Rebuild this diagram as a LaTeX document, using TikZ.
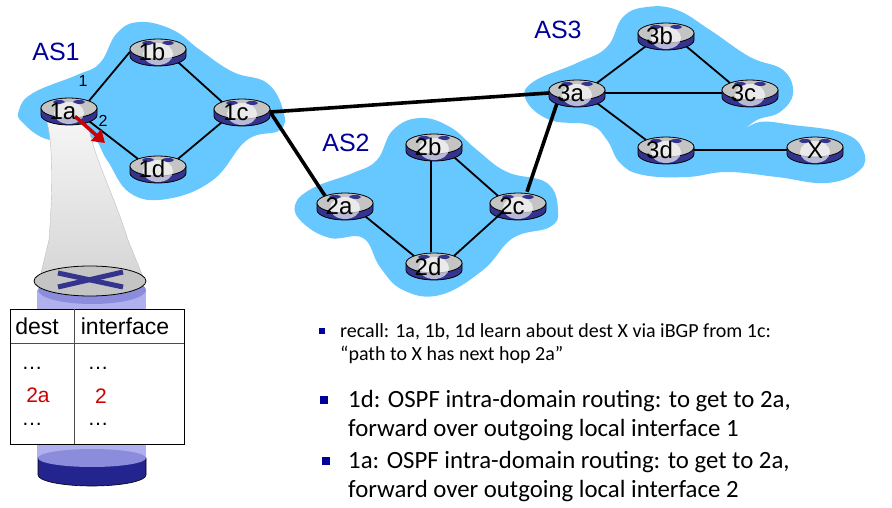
\documentclass[tikz,border=0pt]{standalone}
\usepackage{fontspec}
\setmainfont{Liberation Sans}
\newfontfamily\gillfont{Carlito}
\usetikzlibrary{shapes.geometric,arrows.meta,positioning,calc}
\pgfdeclarelayer{back}
\pgfdeclarelayer{links}
\pgfsetlayers{back,links,main}
\definecolor{cloudblue}{HTML}{66C8FF}
\definecolor{asnavy}{HTML}{000099}
\definecolor{routerblue}{HTML}{34348F}
\definecolor{routertop}{HTML}{C4C4C4}
\definecolor{bodylight}{HTML}{B0B0EE}
\definecolor{bodymid}{HTML}{8C8CDC}
\definecolor{bodydark}{HTML}{24248F}
\definecolor{tablered}{HTML}{CC0000}

% one router: name, x, y, label, label shift
\newcommand{\router}[5]{
  \begin{scope}[shift={(#2,#3)}]
    \draw[fill=routerblue, line width=0.8pt] (-28,3) -- (-28,-4) arc[start angle=180, end angle=360, x radius=28, y radius=10] -- (28,3) -- cycle;
    \draw[fill=routertop, line width=0.8pt] (0,3) ellipse [x radius=28, y radius=10];
    \fill[routerblue] (-10,9) ellipse [x radius=6, y radius=2];
    \fill[routerblue] (10,9) ellipse [x radius=6, y radius=2];
    \fill[white, opacity=0.65] (0,-2) ellipse [x radius=15, y radius=11];
  \end{scope}
  \node[routernode] (#1) at (#2,#3) {\raisebox{-9pt}[0pt][0pt]{\makebox[0pt]{\kern#5pt #4}}};
}

\begin{document}
\begin{tikzpicture}[
    x=1pt, y=1pt,
    routernode/.style={ellipse, minimum width=56pt, minimum height=28pt, inner sep=0pt, font=\fontsize{24}{26}\selectfont},
    linkline/.style={line width=1.8pt},
    bgpline/.style={line width=3.6pt},
    blob/.style={fill=cloudblue, draw=none},
    aslabel/.style={text=asnavy, font=\fontsize{25}{28}\selectfont},
    portlabel/.style={font=\fontsize{16}{18}\selectfont},
    cellhead/.style={font=\fontsize{23}{26}\selectfont},
    cellred/.style={text=tablered, inner sep=0pt, font=\fontsize{21}{24}\selectfont},
    celldots/.style={inner sep=0pt, font=\fontsize{21}{24}\selectfont},
    bullet/.style={rectangle, fill=asnavy, inner sep=0pt},
    smalltext/.style={anchor=north west, align=left, inner sep=0pt, font=\gillfont\fontsize{20}{23}\selectfont},
    bigtext/.style={anchor=north west, align=left, inner sep=0pt, font=\gillfont\fontsize{24.8}{29.5}\selectfont}
]
\useasboundingbox (0,0) rectangle (892,-508);

\begin{pgfonlayer}{back}
\fill[white] (0,0) rectangle (892,-508);
% AS clouds
\fill[blob] plot[smooth cycle, tension=0.7] coordinates {(19,-110) (33,-93) (77,-75) (100,-63) (117,-33) (140,-22) (173,-30) (200,-50) (233,-72) (267,-83) (283,-110) (280,-130) (247,-140) (213,-180) (167,-199) (130,-193) (107,-160) (90,-137) (50,-140) (23,-123)};
\fill[blob] plot[smooth cycle, tension=0.7] coordinates {(295,-205) (313,-188) (353,-173) (377,-160) (393,-130) (420,-118) (450,-127) (477,-150) (507,-172) (547,-183) (558,-210) (550,-227) (513,-238) (483,-270) (440,-295) (403,-290) (380,-267) (363,-238) (330,-238) (303,-223)};
\fill[blob] plot[smooth, tension=0.7] coordinates {(742,-132) (760,-122) (793,-125) (843,-133) (863,-150) (860,-170) (827,-183) (777,-177) (727,-172) (687,-177) (643,-175) (620,-163) (607,-140) (590,-125) (550,-120) (526,-100) (533,-82) (577,-63) (607,-47) (623,-17) (647,-7) (677,-10) (710,-30) (750,-57) (783,-70) (793,-93) (780,-112) (757,-120) (742,-132)} -- cycle;
% zoom beam
\draw[draw=gray!50, top color=gray!8, bottom color=gray!32] (47,-122) .. controls (54,-150) and (52,-200) .. (49,-240) -- (41,-273) -- (143,-277) -- (128,-240) .. controls (112,-190) and (95,-160) .. (88,-125) -- cycle;
\end{pgfonlayer}

\foreach \n/\x/\y/\s in {1a/69/-111/-12, 1b/158/-52/-12, 1c/242/-112/-12, 1d/158/-169/-12,
    2a/345/-206/-12, 2b/434/-147/-12, 2c/518/-206/-12, 2d/434/-266/-12,
    3a/577/-93/-13, 3b/666/-36/-13, 3c/750/-93/-13, 3d/666/-150/-13, X/815/-150/0}
  {\router{\n}{\x}{\y}{\n}{\s}}

\begin{pgfonlayer}{links}
\draw[linkline] (1a.north east) -- (1b.west);
\draw[linkline] (1a.south east) -- (1d.north west);
\draw[linkline] (1b.south east) -- (1c.north west);
\draw[linkline] (1c.south west) -- (1d.north east);
\draw[linkline] (2a.south east) -- (2d.north west);
\draw[linkline] ([xshift=-3pt]2b.south) -- ([xshift=-3pt]2d.north);
\draw[linkline] (2b.south east) -- (2c.north west);
\draw[linkline] (3a.north east) -- (3b.south west);
\draw[linkline] (3b.south east) -- (3c.north west);
\draw[linkline] (3a.east) -- (3c.west);
\draw[linkline] (3a.south east) -- (3d.north west);
\draw[linkline] (3d.east) -- (X.west);
\draw[bgpline] (1c.east) -- (3a.west);
\draw[bgpline] (1c.east) -- (2a.north west);
\draw[bgpline] ([xshift=9pt]2c.north) -- (3a.south west);
\end{pgfonlayer}
\draw[linkline, shorten >=-7pt] (2d.north east) -- (2c.south west);

\node[aslabel] (as1) at (56,-52) {AS1};
\node[aslabel] (as2) at (346,-143) {AS2};
\node[aslabel] (as3) at (558,-30) {AS3};
\node[portlabel] (port1) at (83,-81) {1};
\node[portlabel] (port2) at (103,-121) {2};

\coordinate (arrowend) at (105,-143);
\draw[-{Triangle[length=12pt,width=15pt]}, tablered, line width=3.5pt, shorten <=8pt] (1a.center) -- (arrowend);

% big router under the table
\fill[bodylight] (37,-290) rectangle (146,-458);
\fill[bodymid] (92,-290) ellipse [x radius=54, y radius=14];
\draw[fill=bodydark, line width=0.6pt] (38,-458) -- (38,-475) arc[start angle=180, end angle=360, x radius=54, y radius=11] -- (146,-458) -- cycle;
\fill[bodymid] (92,-458) ellipse [x radius=54, y radius=9];
\draw[fill=routertop, line width=0.8pt] (90,-281) ellipse [x radius=56, y radius=15];
\draw[routerblue, line width=5pt] (58,-273) -- (123,-287);
\draw[routerblue, line width=5pt] (123,-272) -- (58,-287);

% forwarding table
\node[rectangle, draw, fill=white, line width=0.8pt, minimum width=174pt, minimum height=135pt, inner sep=0pt] (fwdtable) at (97.5,-376.5) {};
\draw[black!70, line width=0.8pt] (10.5,-343) -- (184,-343);
\draw[black!70, line width=0.8pt] (74,-309) -- (74,-444);
\node[cellhead] (cdest) at (37,-326) {dest};
\node[cellhead] (cintf) at (125,-326) {interface};
\node[celldots] (d1) at (32,-368) {\dots};
\node[celldots] (d2) at (98,-368) {\dots};
\node[cellred] (c2a) at (38,-395) {2a};
\node[cellred] (c2) at (101,-396) {2};
\node[celldots] (d3) at (32,-424) {\dots};
\node[celldots] (d4) at (98,-424) {\dots};

% notes
\node[bullet, minimum width=6pt, minimum height=6pt] (b1) at (322,-331) {};
\node[smalltext] (note1) at (340,-323) {recall: 1a, 1b, 1d learn about dest X via iBGP from 1c:\\“path to X has next hop 2a”};
\node[bullet, minimum width=8pt, minimum height=8pt] (b2) at (324,-400) {};
\node[bigtext] (note2) at (348,-390) {1d: OSPF intra-domain routing: to get to 2a,\\forward over outgoing local interface 1};
\node[bullet, minimum width=8pt, minimum height=8pt] (b3) at (326,-461) {};
\node[bigtext] (note3) at (348,-451) {1a: OSPF intra-domain routing: to get to 2a,\\forward over outgoing local interface 2};
\end{tikzpicture}
\end{document}
